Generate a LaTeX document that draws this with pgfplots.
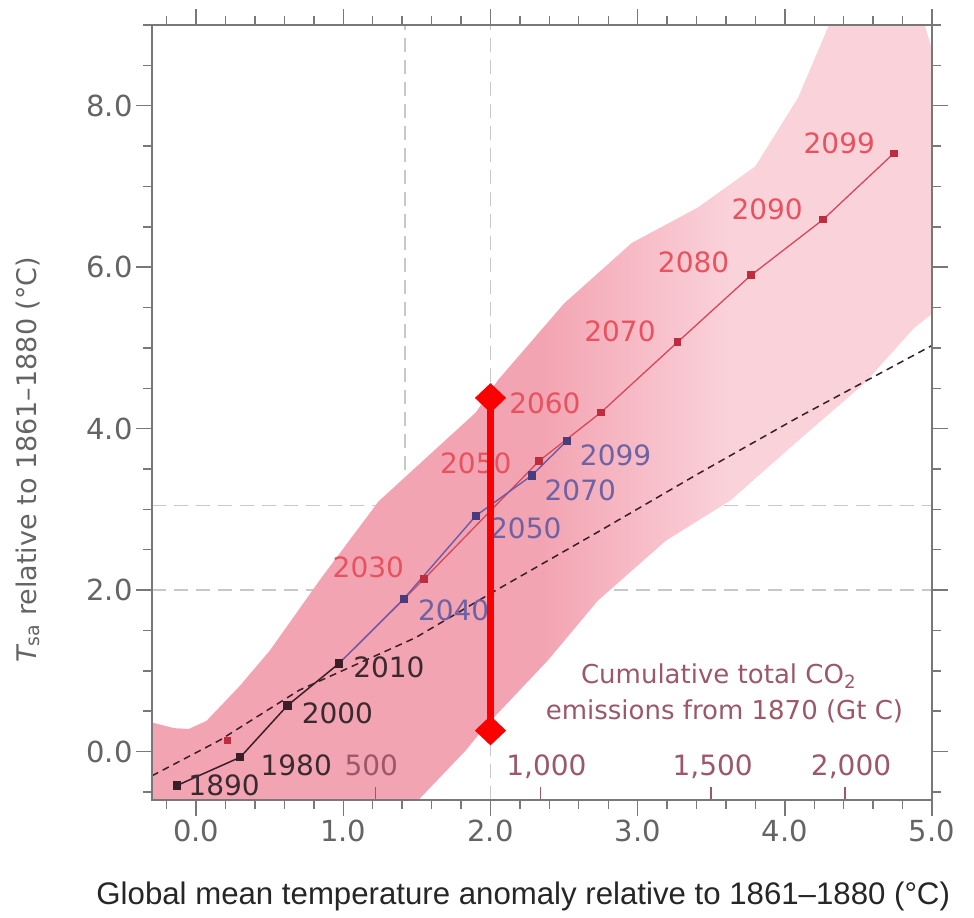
\documentclass[border=0pt]{standalone}
\usepackage{fontspec}
\setmainfont{DejaVu Sans}
\newfontfamily\arialfont[Ligatures=TeX]{Liberation Sans}
\usepackage{pgfplots}
\pgfplotsset{compat=1.18}

\definecolor{bandD}{RGB}{243,164,178}
\definecolor{bandL}{RGB}{250,210,218}
\definecolor{axisgray}{RGB}{120,120,120}
\definecolor{ticklab}{RGB}{100,100,100}
\definecolor{gridgray}{RGB}{200,200,200}
\definecolor{histblack}{RGB}{58,30,40}
\definecolor{redline}{RGB}{214,72,88}
\definecolor{redmark}{RGB}{190,45,62}
\definecolor{redlab}{RGB}{232,82,95}
\definecolor{blueline}{RGB}{106,92,168}
\definecolor{bluemark}{RGB}{72,60,125}
\definecolor{bluelab}{RGB}{110,98,165}
\definecolor{blacklab}{RGB}{58,42,48}
\definecolor{emiss}{RGB}{155,88,104}
\definecolor{barred}{RGB}{250,0,0}

\pgfdeclarehorizontalshading{bandshade}{100bp}{color(0bp)=(bandD); color(50bp)=(bandD); color(62bp)=(bandL); color(100bp)=(bandL)}

\newcommand{\lab}{\fontsize{28bp}{32bp}\selectfont}

\begin{document}
\begin{tikzpicture}
\useasboundingbox (0,0) rectangle (974bp,918bp);
\begin{axis}[
  at={(152bp,118bp)}, anchor=south west,
  scale only axis, width=780bp, height=775bp,
  xmin=-0.3, xmax=5.0, ymin=-0.6, ymax=9.0,
  xtick={-1,0,1,2,3,4,5}, ytick={-2,0,2,4,6,8,10},
  minor x tick num=4, minor y tick num=3,
  tick align=outside,
  major tick length=16bp, minor tick length=9bp,
  axis line style={draw=axisgray, line width=1.6bp},
  every tick/.style={draw=axisgray, line width=1.4bp},
  axis on top,
  ticklabel style={font=\fontsize{29bp}{34bp}\selectfont, text=ticklab},
  /pgf/number format/.cd, fixed, fixed zerofill, precision=1, assume math mode=true,
  /pgfplots/.cd,
  xlabel={Global mean temperature anomaly relative to 1861–1880 (°C)},
  xlabel style={at={(axis description cs:0.476,-0.125)}, anchor=center, font=\arialfont\fontsize{31.2bp}{36bp}\selectfont, text=black!85},
  ylabel={{\itshape T}\textsubscript{sa} relative to 1861–1880 (°C)},
  ylabel style={at={(axis description cs:-0.159,0.439)}, anchor=center, font=\fontsize{27bp}{32bp}\selectfont, text=ticklab},
]
% dashed grey reference lines
\addplot[gridgray, dashed, line width=1.6bp, dash pattern=on 14bp off 8bp] coordinates {(1.42,-0.6) (1.42,9.0)};
\addplot[gridgray, dashed, line width=1.6bp, dash pattern=on 14bp off 8bp] coordinates {(2.0,-0.6) (2.0,9.0)};
\addplot[gridgray, dashed, line width=1.6bp, dash pattern=on 14bp off 8bp] coordinates {(-0.3,2.0) (5.0,2.0)};
\addplot[gridgray, dashed, line width=1.6bp, dash pattern=on 14bp off 8bp] coordinates {(-0.3,3.05) (5.0,3.05)};

% uncertainty band
\addplot[draw=none, shading=bandshade] coordinates {
 (-0.3,-0.6) (-0.3,0.36) (-0.15,0.29) (-0.05,0.28) (0.07,0.38) (0.29,0.8) (0.5,1.25)
 (0.85,2.15) (1.24,3.1) (1.6,3.7) (1.9,4.2) (2.05,4.6) (2.5,5.55) (2.96,6.3) (3.41,6.74)
 (3.8,7.25) (4.09,8.1) (4.3,9.0) (4.95,9.0) (5.0,8.7)
 (5.0,5.42) (4.88,5.25) (4.54,4.56) (4.09,3.85) (3.63,3.11) (3.19,2.61) (2.73,1.87)
 (2.39,1.13) (1.96,0.3) (1.83,0.01) (1.51,-0.6)
} -- cycle;

% dashed black line
\addplot[histblack, line width=1.5bp, dash pattern=on 7bp off 5bp] coordinates {
 (-0.3,-0.3) (0.16,0.14) (0.7,0.76) (1.49,1.41) (2.03,1.99) (2.73,2.72) (3.41,3.44) (4.09,4.14) (5.0,5.03)
};
\addplot[only marks, mark=square*, mark size=3bp, redmark] coordinates {(0.21,0.14)};

% red scenario
\addplot[redline, line width=1.3bp, mark=square*, mark size=3.2bp, mark options={redmark}, mark indices={2,...,9}] coordinates {
 (0.97,1.09) (1.55,2.14) (2.33,3.6) (2.75,4.2) (3.27,5.07) (3.77,5.9) (4.26,6.59) (4.74,7.41)
};
% blue scenario
\addplot[blueline, line width=1.4bp, mark=square*, mark size=3.4bp, mark options={bluemark}, mark indices={2,...,5}] coordinates {
 (0.97,1.09) (1.41,1.89) (1.90,2.92) (2.28,3.42) (2.52,3.85)
};
% historical
\addplot[histblack, line width=1.5bp, mark=square*, mark size=3.4bp, mark options={histblack}] coordinates {
 (-0.13,-0.42) (0.30,-0.07) (0.62,0.57) (0.97,1.09)
};

% emission scale ticks
\addplot[emiss, line width=1.5bp] coordinates {(1.22,-0.6) (1.22,-0.44)};
\addplot[emiss, line width=1.5bp] coordinates {(2.34,-0.6) (2.34,-0.44)};
\addplot[emiss, line width=1.5bp] coordinates {(3.50,-0.6) (3.50,-0.44)};
\addplot[emiss, line width=1.5bp] coordinates {(4.41,-0.6) (4.41,-0.44)};

% labels: historical
\node[text=blacklab, font=\lab] at (axis cs:0.19,-0.42) {1890};
\node[text=blacklab, font=\lab] at (axis cs:0.68,-0.17) {1980};
\node[text=blacklab, font=\lab] at (axis cs:0.96,0.48) {2000};
\node[text=blacklab, font=\lab] at (axis cs:1.31,1.04) {2010};
% labels: red
\node[text=redlab, font=\lab] at (axis cs:1.17,2.28) {2030};
\node[text=redlab, font=\lab] at (axis cs:1.90,3.57) {2050};
\node[text=redlab, font=\lab] at (axis cs:2.37,4.32) {2060};
\node[text=redlab, font=\lab] at (axis cs:2.88,5.21) {2070};
\node[text=redlab, font=\lab] at (axis cs:3.38,6.06) {2080};
\node[text=redlab, font=\lab] at (axis cs:3.88,6.72) {2090};
\node[text=redlab, font=\lab] at (axis cs:4.37,7.53) {2099};
% labels: blue
\node[text=bluelab, font=\lab] at (axis cs:1.75,1.75) {2040};
\node[text=bluelab, font=\lab] at (axis cs:2.24,2.77) {2050};
\node[text=bluelab, font=\lab] at (axis cs:2.61,3.23) {2070};
\node[text=bluelab, font=\lab] at (axis cs:2.85,3.67) {2099};
% emission labels
\node[text=emiss, font=\lab] at (axis cs:1.19,-0.17) {500};
\node[text=emiss, font=\lab] at (axis cs:2.38,-0.19) {1,000};
\node[text=emiss, font=\lab] at (axis cs:3.51,-0.19) {1,500};
\node[text=emiss, font=\lab] at (axis cs:4.45,-0.19) {2,000};
\node[text=emiss, font=\fontsize{26bp}{30bp}\selectfont] at (axis cs:3.55,0.93) {Cumulative total CO\textsubscript{2}};
\node[text=emiss, font=\fontsize{26bp}{30bp}\selectfont] at (axis cs:3.59,0.50) {emissions from 1870 (Gt C)};

% red bar
\addplot[barred, line width=7bp, mark=diamond*, mark size=10bp, mark options={xscale=1.4, draw=none, fill=barred}] coordinates {(2.0,0.26) (2.0,4.38)};
\end{axis}
\end{tikzpicture}
\end{document}
